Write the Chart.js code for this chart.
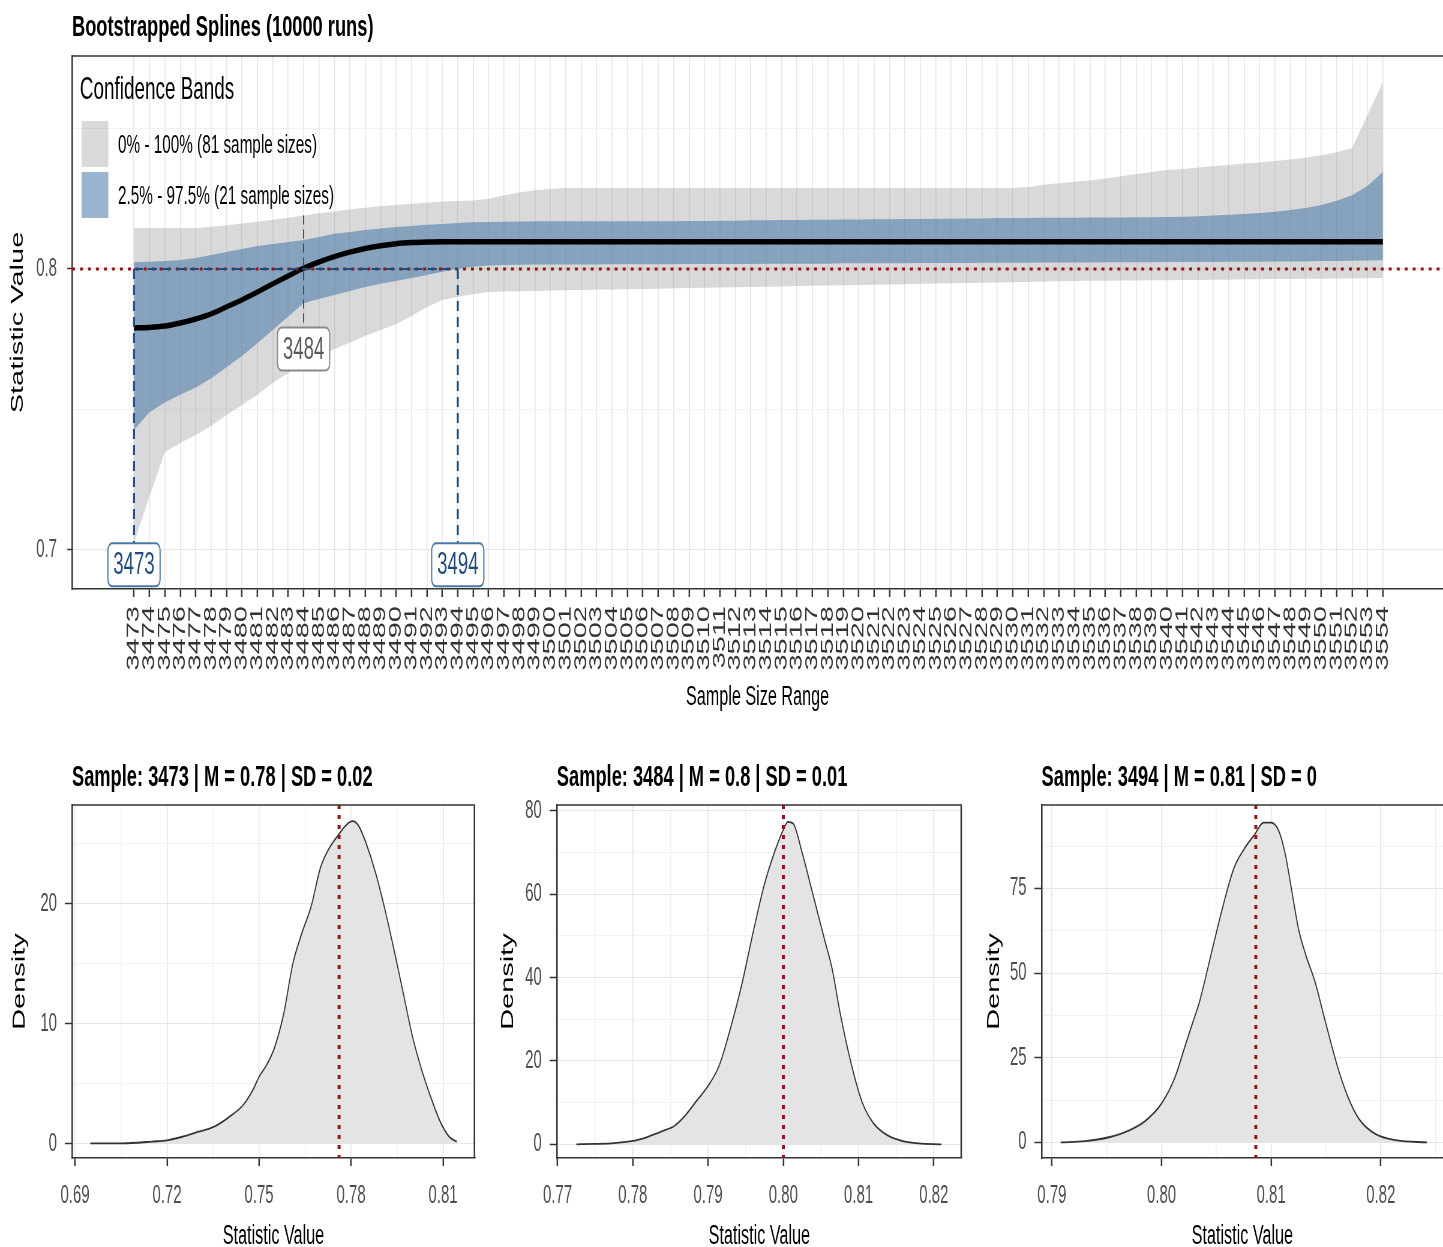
<!DOCTYPE html>
<html><head><meta charset="utf-8">
<script src="https://cdn.jsdelivr.net/npm/chart.js@4.4.1/dist/chart.umd.min.js"></script>
<style>
html,body{margin:0;padding:0;background:#fff;overflow:hidden;width:1443px;height:1247px;}
#stage{position:absolute;left:0;top:0;width:2405px;height:1247px;transform:scaleX(0.6);transform-origin:0 0;}
#stage canvas{position:absolute;}
.t{position:absolute;font-family:"Liberation Sans",Arial,sans-serif;white-space:nowrap;color:#000;}
.b{transform:scaleX(1.05);transform-origin:0 0;}
.key{position:absolute;}
</style></head><body>
<div id="stage">
  <canvas id="cTop" width="2405" height="730" style="left:0;top:0"></canvas>
  <canvas id="cP1" width="800" height="470" style="left:0;top:795px"></canvas>
  <canvas id="cP2" width="803" height="470" style="left:808.3px;top:795px"></canvas>
  <canvas id="cP3" width="789" height="470" style="left:1616px;top:795px"></canvas>

  <div class="t b" style="left:120px;top:11.5px;font-size:29px;line-height:29px;font-weight:bold;">Bootstrapped Splines (10000 runs)</div>
  <div class="t" style="left:133px;top:72.5px;font-size:31.5px;line-height:31.5px;">Confidence Bands</div>
  <div class="key" style="left:136px;top:120.7px;width:44.5px;height:46px;background:rgba(150,150,150,0.36);"></div>
  <div class="key" style="left:136px;top:172.3px;width:44.5px;height:46px;background:rgba(60,114,165,0.52);"></div>
  <div class="t" style="left:196.7px;top:132.4px;font-size:25.5px;line-height:25.5px;">0% - 100% (81 sample sizes)</div>
  <div class="t" style="left:196.7px;top:183.4px;font-size:25.5px;line-height:25.5px;">2.5% - 97.5% (21 sample sizes)</div>

  <div class="t b" id="tP1" style="left:120px;top:761.5px;font-size:29px;line-height:29px;font-weight:bold;"></div>
  <div class="t b" id="tP2" style="left:928.3px;top:761.5px;font-size:29px;line-height:29px;font-weight:bold;"></div>
  <div class="t b" id="tP3" style="left:1736px;top:761.5px;font-size:29px;line-height:29px;font-weight:bold;"></div>
</div>
<script>
// ---------------- DATA ----------------
const sampleSizes = [3473,3474,3475,3476,3477,3478,3479,3480,3481,3482,3483,3484,3485,3486,3487,3488,3489,3490,3491,3492,
  3493,3494,3495,3496,3497,3498,3499,3500,3501,3502,3503,3504,3505,3506,3507,3508,3509,3510,3511,3512,
  3513,3514,3515,3516,3517,3518,3519,3520,3521,3522,3523,3524,3525,3526,3527,3528,3529,3530,3531,3532,
  3533,3534,3535,3536,3537,3538,3539,3540,3541,3542,3543,3544,3545,3546,3547,3548,3549,3550,3551,3552,
  3553,3554];

const splineMean = [0.7790,0.7792,0.7797,0.7808,0.7822,0.7840,0.7865,0.7890,0.7918,0.7947,
  0.7975,0.8003,0.8025,0.8044,0.8060,0.8073,0.8083,0.8090,0.8094,0.8096,
  0.8097,0.8097,0.8097,0.8097,0.8097,0.8097,0.8097,0.8097,0.8097,0.8097,
  0.8097,0.8097,0.8097,0.8097,0.8097,0.8097,0.8097,0.8097,0.8097,0.8097,
  0.8097,0.8097,0.8097,0.8097,0.8097,0.8097,0.8097,0.8097,0.8097,0.8097,
  0.8097,0.8097,0.8097,0.8097,0.8097,0.8097,0.8097,0.8097,0.8097,0.8097,
  0.8097,0.8097,0.8097,0.8097,0.8097,0.8097,0.8097,0.8097,0.8097,0.8097,
  0.8097,0.8097,0.8097,0.8097,0.8097,0.8097,0.8097,0.8097,0.8097,0.8097,
  0.8097,0.8097];

const band95Upper = [0.8025,0.8026,0.8028,0.8032,0.8039,0.8050,0.8060,0.8071,0.8082,0.8089,
  0.8096,0.8103,0.8114,0.8125,0.8132,0.8139,0.8144,0.8149,0.8153,0.8157,
  0.8160,0.8164,0.8166,0.8167,0.8168,0.8169,
  0.8170,0.8170,0.8170,0.8170,0.8170,0.8170,0.8170,0.8170,0.8170,0.8170,
  0.8171,0.8171,0.8172,0.8172,0.8173,0.8173,0.8174,0.8174,0.8175,0.8175,
  0.8176,0.8176,0.8177,0.8177,0.8178,0.8178,0.8179,0.8179,0.8180,0.8180,
  0.8181,0.8181,0.8181,0.8182,0.8182,0.8182,0.8183,0.8183,0.8183,0.8184,0.8184,
  0.8185,0.8186,0.8188,0.8190,0.8193,0.8196,0.8199,0.8204,0.8210,0.8217,0.8228,0.8243,0.8262,0.8295,0.8345];

const band95Lower = [0.7427,0.7490,0.7525,0.7552,0.7578,0.7610,0.7650,0.7690,0.7736,0.7783,
  0.7831,0.7878,0.7893,0.7907,0.7922,0.7936,0.7947,0.7957,0.7968,0.7979,
  0.7990,0.8001,0.8008,0.8012,0.8014,0.8015,
  0.8016,0.8016,0.8016,0.8016,0.8016,0.8017,0.8017,0.8017,0.8017,0.8017,
  0.8018,0.8018,0.8018,0.8018,0.8018,0.8019,0.8019,0.8019,0.8019,0.8019,
  0.8020,0.8020,0.8020,0.8020,0.8020,
  0.8021,0.8021,0.8021,0.8021,0.8022,0.8022,0.8022,0.8022,0.8023,0.8023,
  0.8023,0.8023,0.8024,0.8024,0.8024,0.8024,0.8025,0.8025,0.8025,0.8025,
  0.8026,0.8026,0.8026,0.8027,0.8027,0.8027,0.8028,0.8028,0.8029,0.8030,0.8031];

const bandFullUpper = [0.8146,0.8146,0.8146,0.8146,0.8146,0.8150,0.8156,0.8162,0.8168,0.8175,
  0.8182,0.8190,0.8198,0.8205,0.8212,0.8218,0.8223,0.8228,0.8232,0.8236,
  0.8240,0.8242,0.8244,0.8250,0.8262,0.8272,0.8280,0.8285,
  0.8288,0.8288,0.8288,0.8288,0.8288,0.8288,0.8288,0.8288,0.8288,0.8288,
  0.8288,0.8288,0.8288,0.8288,0.8288,0.8288,0.8288,0.8288,0.8288,0.8288,
  0.8288,0.8288,0.8288,0.8288,0.8288,0.8288,0.8288,0.8288,0.8288,0.8288,
  0.8292,0.8300,0.8305,0.8310,0.8315,0.8322,0.8330,0.8338,0.8345,0.8352,
  0.8356,0.8361,0.8366,0.8370,0.8375,0.8379,0.8384,0.8390,0.8396,0.8405,
  0.8415,0.8431,0.8548,0.8665];

const bandFullLower = [0.7025,0.7189,0.7349,0.7381,0.7409,0.7441,0.7480,0.7516,0.7552,0.7594,
  0.7630,0.7665,0.7690,0.7715,0.7737,0.7762,0.7783,0.7804,0.7833,0.7865,
  0.7890,0.7901,0.7910,0.7918,
  0.7920,0.7921,0.7922,0.7923,0.7924,0.7925,0.7926,0.7927,0.7928,0.7929,0.7930,0.7931,
  0.7932,0.7933,0.7934,0.7935,0.7936,0.7937,0.7938,0.7939,0.7940,0.7941,
  0.7942,0.7943,0.7944,0.7945,0.7946,0.7947,0.7948,0.7949,0.7950,0.7951,0.7952,
  0.7953,0.7954,0.7955,0.7956,0.7957,0.7958,0.7958,0.7959,0.7959,0.7960,
  0.7960,0.7961,0.7961,0.7962,0.7962,0.7963,0.7963,0.7964,0.7964,0.7965,
  0.7965,0.7966,0.7966,0.7967,0.7968];

const threshold = 0.8;
const markerSamples = [3473, 3484, 3494];
const markerLabelValues = [0.6947, 0.7715, 0.6947];
const topYTicksMajor = [0.7, 0.8];
const topYTicksMinor = [0.75, 0.85];

const panelTitles = ['Sample: 3473 | M = 0.78 | SD = 0.02', 'Sample: 3484 | M = 0.8 | SD = 0.01', 'Sample: 3494 | M = 0.81 | SD = 0'];
const panelMeans = [0.7761, 0.8000, 0.8086];

const dens1X = [0.6950,0.7000,0.7050,0.7100,0.7150,0.7200,0.7250,0.7300,0.7350,0.7400,0.7450,0.7480,0.7500,0.7525,0.7550,0.7580,
  0.7610,0.7640,0.7670,0.7700,0.7730,0.7760,0.7785,0.7805,0.7825,0.7850,0.7880,0.7910,0.7940,0.7970,0.8000,0.8030,0.8060,0.8090,0.8120,0.8145];
const dens1Y = [0.05,0.05,0.05,0.1,0.2,0.3,0.6,1.0,1.4,2.2,3.3,4.5,5.6,6.6,8.0,10.8,
  15.0,17.6,19.8,23.0,24.7,25.8,26.6,26.9,26.5,25.0,22.6,19.6,16.2,12.6,9.0,6.2,3.9,1.9,0.6,0.2];

const dens2X = [0.7725,0.7750,0.7775,0.7800,0.7820,0.7840,0.7855,0.7870,0.7885,0.7900,0.7915,0.7930,0.7945,0.7960,0.7975,0.7990,
  0.8000,0.8006,0.8013,0.8025,0.8040,0.8055,0.8065,0.8075,0.8090,0.8105,0.8120,0.8140,0.8160,0.8180,0.8210];
const dens2Y = [0.0,0.1,0.3,0.8,1.8,3.2,4.4,7.0,10.5,14.0,19.0,28.0,38.5,51.0,62.5,71.0,
  75.5,77.4,77.0,70.0,59.5,49.0,42.0,32.0,19.5,10.0,5.0,2.0,0.7,0.2,0.0];

const dens3X = [0.7908,0.7930,0.7953,0.7970,0.7985,0.8000,0.8012,0.8022,0.8028,0.8035,0.8047,0.8057,0.8066,0.8075,0.8085,
  0.8093,0.8100,0.8107,0.8113,0.8119,0.8125,0.8132,0.8140,0.8150,0.8160,0.8170,0.8180,0.8195,0.8215,0.8242];
const dens3Y = [0.0,0.4,1.6,3.5,6.3,11.5,19.0,29.0,35.0,42.0,58.0,71.0,81.0,86.5,91.0,
  94.5,94.5,92.0,85.0,74.0,63.0,55.0,47.5,35.0,23.0,13.5,7.0,2.5,0.6,0.0];

const p1XMajor = [0.69,0.72,0.75,0.78,0.81], p1XMinor = [0.705,0.735,0.765,0.795];
const p1YMajor = [0,10,20], p1YMinor = [5,15,25];
const p2XMajor = [0.77,0.78,0.79,0.80,0.81,0.82], p2XMinor = [0.775,0.785,0.795,0.805,0.815];
const p2YMajor = [0,20,40,60,80], p2YMinor = [10,30,50,70];
const p3XMajor = [0.79,0.80,0.81,0.82], p3XMinor = [0.795,0.805,0.815,0.825];
const p3YMajor = [0,25,50,75], p3YMinor = [12.5,37.5,62.5,87.5];

// ---------------- STYLE ----------------
const FONT = '"Liberation Sans", Arial, sans-serif';
const GREY_BAND = 'rgba(150,150,150,0.36)';
const BLUE_BAND = 'rgba(60,114,165,0.52)';
const DOT_RED = '#9b1414';
const NAVY = '#1f4a7c';
const GRID_MAJ = '#e6e6e6', GRID_MIN = '#f1f1f1';

function toXY(xs, ys){ return xs.map((x,i)=>({x:x, y:ys[i]})); }
function has(list, v){ return list.some(m => Math.abs(m - v) < 1e-9); }
function zeroPad(s){ s.paddingTop = 0; s.paddingBottom = 0; s.paddingLeft = 0; s.paddingRight = 0; }

Chart.defaults.font.family = FONT;

// ---------------- TOP CHART ----------------
const topAnno = {
  id: 'topAnno',
  afterDatasetsDraw(chart){
    const {ctx, chartArea:a, scales:{x, y}} = chart;
    ctx.save();
    ctx.beginPath(); ctx.rect(a.left, a.top, a.right - a.left, a.bottom - a.top); ctx.clip();
    const y0 = y.getPixelForValue(threshold);
    ctx.strokeStyle = DOT_RED; ctx.lineWidth = 3; ctx.setLineDash([5, 8.3]);
    ctx.beginPath(); ctx.moveTo(a.left, y0); ctx.lineTo(a.right, y0); ctx.stroke();
    const xa = x.getPixelForValue(markerSamples[0]);
    const xc = x.getPixelForValue(markerSamples[2]);
    const xb = x.getPixelForValue(markerSamples[1]);
    ctx.strokeStyle = NAVY; ctx.lineWidth = 2; ctx.setLineDash([15, 8.3]);
    ctx.beginPath(); ctx.moveTo(xa, y0); ctx.lineTo(xc, y0); ctx.stroke();
    ctx.lineWidth = 3.3; ctx.setLineDash([10, 6]);
    [0, 2].forEach(i => {
      const px = x.getPixelForValue(markerSamples[i]);
      const py = y.getPixelForValue(markerLabelValues[i]);
      ctx.beginPath(); ctx.moveTo(px, y0); ctx.lineTo(px, py); ctx.stroke();
    });
    const iMid = sampleSizes.indexOf(markerSamples[1]);
    ctx.strokeStyle = '#444'; ctx.lineWidth = 1.8; ctx.setLineDash([9, 5]);
    ctx.beginPath(); ctx.moveTo(xb, y.getPixelForValue(bandFullUpper[iMid])); ctx.lineTo(xb, y.getPixelForValue(markerLabelValues[1])); ctx.stroke();
    ctx.restore();
    ctx.save();
    ctx.setLineDash([]);
    markerSamples.forEach((s, i) => {
      const px = x.getPixelForValue(s);
      const py = y.getPixelForValue(markerLabelValues[i]);
      const w = 87, h = 43;
      ctx.beginPath();
      ctx.roundRect(px - w/2, py - h/2, w, h, 7);
      ctx.fillStyle = '#fff'; ctx.fill();
      ctx.lineWidth = 2;
      ctx.strokeStyle = i === 1 ? '#8a8a8a' : '#4a78a6';
      ctx.stroke();
      ctx.fillStyle = i === 1 ? '#5a5a5a' : NAVY;
      ctx.font = '31px ' + FONT;
      ctx.textAlign = 'center'; ctx.textBaseline = 'middle';
      ctx.fillText(String(s), px, py + 1);
    });
    ctx.strokeStyle = '#333'; ctx.lineWidth = 1.5;
    ctx.beginPath(); ctx.moveTo(a.left, a.top); ctx.lineTo(a.right, a.top); ctx.stroke();
    ctx.restore();
  }
};

new Chart(document.getElementById('cTop'), {
  type: 'line',
  data: { datasets: [
    { data: toXY(sampleSizes, bandFullUpper), fill: '+1', backgroundColor: GREY_BAND, borderColor: 'transparent', borderWidth: 0, pointRadius: 0, order: 4 },
    { data: toXY(sampleSizes, bandFullLower), fill: false, borderColor: 'transparent', borderWidth: 0, pointRadius: 0, order: 5 },
    { data: toXY(sampleSizes, band95Upper), fill: '+1', backgroundColor: BLUE_BAND, borderColor: 'transparent', borderWidth: 0, pointRadius: 0, order: 2 },
    { data: toXY(sampleSizes, band95Lower), fill: false, borderColor: 'transparent', borderWidth: 0, pointRadius: 0, order: 3 },
    { data: toXY(sampleSizes, splineMean), fill: false, borderColor: '#000', borderWidth: 5.5, pointRadius: 0, cubicInterpolationMode: 'monotone', order: 1 }
  ]},
  options: {
    responsive: false, animation: false, devicePixelRatio: 1,
    layout: { padding: { top: 56, left: 0, right: 0, bottom: 0 } },
    plugins: { legend: { display: false }, tooltip: { enabled: false } },
    scales: {
      x: {
        type: 'linear', min: 3468.98, max: 3557.9,
        afterBuildTicks: s => { s.ticks = sampleSizes.map(v => ({ value: v })); },
        afterFit: s => { s.height = 730 - 589; zeroPad(s); },
        ticks: { autoSkip: false, minRotation: 90, maxRotation: 90, padding: 9, color: '#333', font: { family: FONT, size: 29 }, callback: v => String(v) },
        grid: { color: GRID_MAJ, lineWidth: 1.7, tickLength: 8, tickColor: '#333', tickWidth: 2.5 },
        border: { color: '#333', width: 1.5 },
        title: { display: true, text: 'Sample Size Range', color: '#000', font: { family: FONT, size: 27 }, padding: { top: 0, bottom: 16.3 } }
      },
      y: {
        type: 'linear', min: 0.6861, max: 0.8758,
        afterBuildTicks: s => { s.ticks = topYTicksMajor.concat(topYTicksMinor).sort().map(v => ({ value: v })); },
        afterFit: s => { s.width = 120; zeroPad(s); },
        ticks: { padding: 17, color: '#4d4d4d', font: { family: FONT, size: 25 }, callback: v => has(topYTicksMajor, v) ? v.toFixed(1) : '' },
        grid: { color: c => has(topYTicksMajor, c.tick.value) ? GRID_MAJ : GRID_MIN, lineWidth: 1, tickLength: 8, tickWidth: 1.5,
                tickColor: c => has(topYTicksMajor, c.tick.value) ? '#333' : 'rgba(0,0,0,0)' },
        border: { color: '#333', width: 2.5 },
        title: { display: true, text: 'Statistic Value', color: '#000', font: { family: FONT, size: 29 }, padding: { top: 12.6, bottom: 0 } }
      }
    }
  },
  plugins: [topAnno]
});

// ---------------- DENSITY PANELS ----------------
function panelDecor(meanVal, rightBorder){
  return {
    id: 'decor',
    afterDatasetsDraw(chart){
      const {ctx, chartArea:a, scales:{x}} = chart;
      ctx.save();
      const px = x.getPixelForValue(meanVal);
      ctx.strokeStyle = DOT_RED; ctx.lineWidth = 5; ctx.setLineDash([4, 6]);
      ctx.beginPath(); ctx.moveTo(px, a.top); ctx.lineTo(px, a.bottom); ctx.stroke();
      ctx.setLineDash([]);
      ctx.strokeStyle = '#333'; ctx.lineWidth = 1.5;
      ctx.beginPath(); ctx.moveTo(a.left, a.top); ctx.lineTo(a.right, a.top); ctx.stroke();
      if (rightBorder) {
        ctx.lineWidth = 2.5;
        ctx.beginPath(); ctx.moveTo(a.right - 1, a.top); ctx.lineTo(a.right - 1, a.bottom); ctx.stroke();
      }
      ctx.restore();
    }
  };
}

function makePanel(id, xs, ys, meanVal, xr, yr, xMaj, xMin, yMaj, yMin, yTitlePad, rightPad, rightBorder){
  new Chart(document.getElementById(id), {
    type: 'line',
    data: { datasets: [
      { data: toXY(xs, ys), fill: 'origin', backgroundColor: '#e4e4e4', borderColor: '#333', borderWidth: 1.8, pointRadius: 0, cubicInterpolationMode: 'monotone' }
    ]},
    options: {
      responsive: false, animation: false, devicePixelRatio: 1,
      layout: { padding: { top: 10, left: 0, right: rightPad, bottom: 0 } },
      plugins: { legend: { display: false }, tooltip: { enabled: false } },
      scales: {
        x: {
          type: 'linear', min: xr[0], max: xr[1],
          afterBuildTicks: s => { s.ticks = xMaj.concat(xMin).sort((a,b)=>a-b).map(v => ({ value: v })); },
          afterFit: s => { s.height = 470 - 363; zeroPad(s); },
          ticks: { autoSkip: false, maxRotation: 0, minRotation: 0, padding: 15, color: '#4d4d4d', font: { family: FONT, size: 25 },
                   callback: v => has(xMaj, v) ? v.toFixed(2) : '' },
          grid: { color: c => has(xMaj, c.tick.value) ? GRID_MAJ : GRID_MIN, lineWidth: 1.7, tickLength: 8, tickWidth: 2.5,
                  tickColor: c => has(xMaj, c.tick.value) ? '#333' : 'rgba(0,0,0,0)' },
          border: { color: '#333', width: 1.5 },
          title: { display: true, text: 'Statistic Value', color: '#000', font: { family: FONT, size: 27 }, padding: { top: 0, bottom: 12.3 } }
        },
        y: {
          type: 'linear', min: yr[0], max: yr[1],
          afterBuildTicks: s => { s.ticks = yMaj.concat(yMin).sort((a,b)=>a-b).map(v => ({ value: v })); },
          afterFit: s => { s.width = 120; zeroPad(s); },
          ticks: { padding: 13, color: '#4d4d4d', font: { family: FONT, size: 25 }, callback: v => has(yMaj, v) ? String(v) : '' },
          grid: { color: c => has(yMaj, c.tick.value) ? GRID_MAJ : GRID_MIN, lineWidth: 1, tickLength: 12, tickWidth: 1.5,
                  tickColor: c => has(yMaj, c.tick.value) ? '#333' : 'rgba(0,0,0,0)' },
          border: { color: '#333', width: 2.5 },
          title: { display: true, text: 'Density', color: '#000', font: { family: FONT, size: 29 }, padding: { top: yTitlePad, bottom: 0 } }
        }
      }
    },
    plugins: [panelDecor(meanVal, rightBorder)]
  });
}

document.getElementById('tP1').textContent = panelTitles[0];
document.getElementById('tP2').textContent = panelTitles[1];
document.getElementById('tP3').textContent = panelTitles[2];

makePanel('cP1', dens1X, dens1Y, panelMeans[0], [0.68902, 0.82043], [-1.17, 28.25], p1XMajor, p1XMinor, p1YMajor, p1YMinor, 16, 8.3, true);
makePanel('cP2', dens2X, dens2Y, panelMeans[1], [0.7699, 0.82372], [-3.29, 81.44], p2XMajor, p2XMinor, p2YMajor, p2YMinor, 21.5, 8, true);
makePanel('cP3', dens3X, dens3Y, panelMeans[2], [0.78906, 0.82568], [-4.6, 99.68], p3XMajor, p3XMinor, p3YMajor, p3YMinor, 23.6, 0, false);
</script>
</body></html>
